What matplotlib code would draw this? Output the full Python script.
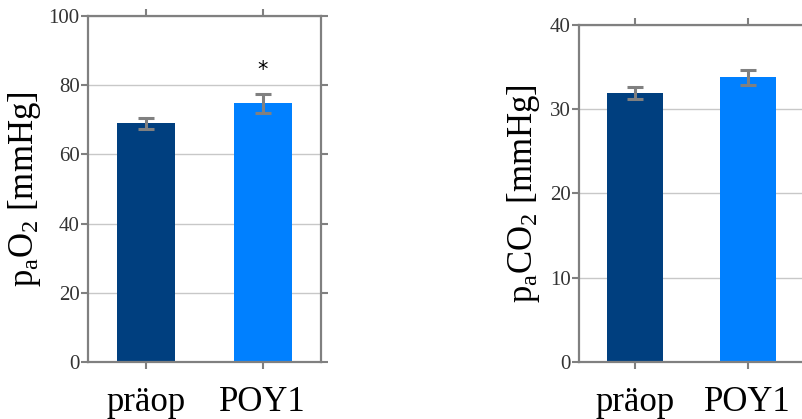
import matplotlib
matplotlib.use("Agg")
import matplotlib.pyplot as plt

# data
groups = ["präop", "POY1"]
pao2_mean = [69.0, 74.8]
pao2_err = [1.6, 2.7]
paco2_mean = [31.9, 33.8]
paco2_err = [0.7, 0.9]
bar_colors = ["#003f7f", "#0080ff"]

plt.rcParams["font.family"] = ["Liberation Serif", "DejaVu Serif"]
plt.rcParams["mathtext.fontset"] = "custom"
plt.rcParams["mathtext.rm"] = "Liberation Serif"
plt.rcParams["mathtext.it"] = "Liberation Serif"

GRAY = "#808080"


def style_axes(ax, ymax, step):
    ax.set_xlim(-0.5, 1.5)
    ax.set_ylim(0, ymax)
    ax.set_yticks(range(0, ymax + 1, step))
    ax.set_xticks(range(len(groups)))
    ax.set_xticklabels(groups, fontsize=25)
    ax.tick_params(axis="y", labelsize=15, direction="out", length=5,
                   width=1.5, color=GRAY, pad=1, right=True, labelcolor="#333333")
    ax.tick_params(axis="x", direction="out", length=5, width=1.5,
                   color=GRAY, pad=12, top=True)
    for sp in ax.spines.values():
        sp.set_color(GRAY)
        sp.set_linewidth(1.6)
    ax.grid(axis="y", color="#c8c8c8", linewidth=1.0)
    ax.set_axisbelow(True)


def draw_bars(ax, means, errs):
    ax.bar(range(len(groups)), means, width=0.5, color=bar_colors, zorder=2)
    ax.errorbar(range(len(groups)), means, yerr=errs, fmt="none",
                ecolor=GRAY, elinewidth=2.2, capsize=5.5, capthick=2.2, zorder=3)


fig = plt.figure(figsize=(8.03, 4.19), dpi=100)

ax1 = fig.add_axes([88 / 803, 57 / 419, 233 / 803, 346 / 419])
draw_bars(ax1, pao2_mean, pao2_err)
style_axes(ax1, 100, 20)
ax1.set_ylabel(r"$\mathregular{p_aO_2}$ [mmHg]", fontsize=25)
ax1.yaxis.set_label_coords(-0.195, 0.5)
ax1.text(1, 84.3, "*", ha="center", va="center", fontsize=15,
         family="DejaVu Sans")

ax2 = fig.add_axes([579 / 803, 57 / 419, 225 / 803, 337 / 419])
draw_bars(ax2, paco2_mean, paco2_err)
style_axes(ax2, 40, 10)
ax2.set_ylabel(r"$\mathregular{p_aCO_2}$ [mmHg]", fontsize=25)
ax2.yaxis.set_label_coords(-0.165, 0.5)

fig.savefig("out.png", dpi=100)
